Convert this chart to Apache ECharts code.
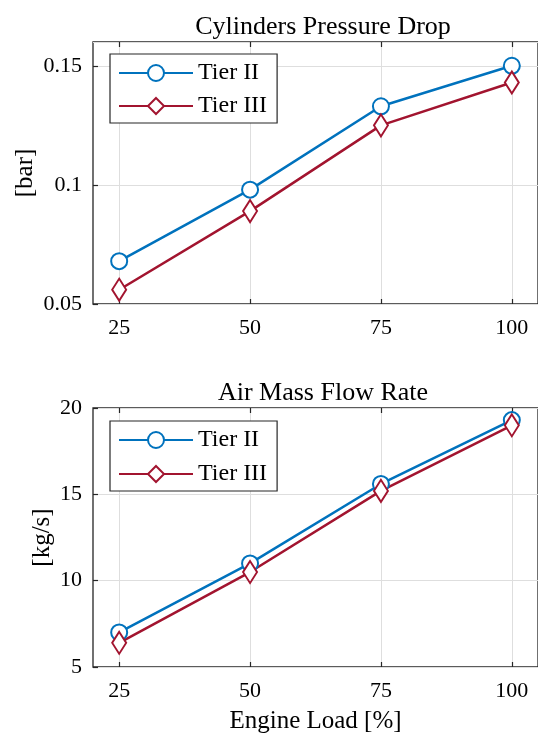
<!DOCTYPE html>
<html><head><meta charset="utf-8">
<script src="https://cdn.jsdelivr.net/npm/echarts@6/dist/echarts.min.js"></script>
<style>html,body{margin:0;padding:0;background:#fff;overflow:hidden}#c{width:538px;height:735px}</style>
</head><body><div id="c"></div>
<script>
const loads = [25, 50, 75, 100];
const xTicks = [25, 50, 75, 100];
const pressureTier2 = [0.068, 0.098, 0.133, 0.150];
const pressureTier3 = [0.056, 0.089, 0.125, 0.143];
const airTier2 = [7.0, 11.0, 15.6, 19.3];
const airTier3 = [6.4, 10.5, 15.2, 19.0];
const seriesNames = ['Tier II', 'Tier III'];
const titles = ['Cylinders Pressure Drop', 'Air Mass Flow Rate'];
const yNames = ['[bar]', '[kg/s]'];
const xName = 'Engine Load [%]';

const FONT = 'Liberation Serif';
const BLUE = '#0072BD', RED = '#A2142F', AX = '#262626';
const pair = arr => loads.map((x, i) => [x, arr[i]]);

const grids = [
  {left: 93, top: 42, width: 449, height: 262},
  {left: 93, top: 408, width: 449, height: 263}
];

function xAx(gi, top) {
  return {
    type: 'value', gridIndex: gi, min: 20, max: 105, position: top ? 'top' : 'bottom',
    name: (!top && gi === 1) ? xName : '', nameLocation: 'middle', nameGap: 42, nameMoveOverlap: false,
    nameTextStyle: {fontFamily: FONT, fontSize: 25, color: '#000'},
    axisLine: {show: false},
    axisTick: {show: true, inside: true, length: 5, customValues: xTicks, lineStyle: {color: AX, width: 1.2}},
    axisLabel: {show: !top, customValues: xTicks, margin: 13, fontFamily: FONT, fontSize: 22, color: '#000'},
    splitLine: {show: !top, customValues: xTicks, lineStyle: {color: '#dedede', width: 1}}
  };
}
function yAx(gi, min, max, interval, nameGap, showMax) {
  return {
    type: 'value', gridIndex: gi, min: min, max: max, interval: interval,
    name: yNames[gi], nameLocation: 'middle', nameGap: nameGap, nameMoveOverlap: false,
    nameTextStyle: {fontFamily: FONT, fontSize: 25, color: '#000'},
    axisLine: {show: false},
    axisTick: {show: true, inside: true, length: 5, lineStyle: {color: AX, width: 1.2}},
    axisLabel: {margin: 11, fontFamily: FONT, fontSize: 22, color: '#000', showMaxLabel: showMax,
      formatter: v => String(+v.toFixed(3))},
    splitLine: {show: true, lineStyle: {color: '#dedede', width: 1}}
  };
}
function ser(name, data, gi, color, symbol, size) {
  return {
    type: 'line', name: name, xAxisIndex: gi * 2, yAxisIndex: gi, data: data,
    symbol: symbol, symbolSize: size, showAllSymbol: true,
    lineStyle: {color: color, width: 2.5},
    itemStyle: {color: color, borderColor: color, borderWidth: 2.4},
    emphasis: {disabled: true}, animation: false
  };
}
function leg(top, gap) {
  return {
    data: seriesNames, orient: 'vertical', left: 110, top: top,
    backgroundColor: '#fff', borderColor: AX, borderWidth: 1.2,
    padding: [7, 10, 5, 8], itemWidth: 74, itemHeight: 20, itemGap: gap,
    textStyle: {fontFamily: FONT, fontSize: 24, color: '#000'}
  };
}

const chart = echarts.init(document.getElementById('c'), null, {renderer: 'canvas'});
chart.setOption({
  animation: false,
  backgroundColor: '#fff',
  title: [
    {text: titles[0], left: 318, top: 9, textAlign: 'center', textStyle: {fontFamily: FONT, fontSize: 26, fontWeight: 'normal', color: '#000'}},
    {text: titles[1], left: 318, top: 375, textAlign: 'center', textStyle: {fontFamily: FONT, fontSize: 26, fontWeight: 'normal', color: '#000'}}
  ],
  grid: grids.map(g => Object.assign({show: true, borderColor: AX, borderWidth: 1.3, backgroundColor: '#fff'}, g)),
  xAxis: [xAx(0, false), xAx(0, true), xAx(1, false), xAx(1, true)],
  yAxis: [yAx(0, 0.05, 0.16, 0.05, 55, false), yAx(1, 5, 20, 5, 38, true)],
  legend: [leg(54, 9), leg(421, 10)],
  series: [
    ser(seriesNames[0], pair(pressureTier2), 0, BLUE, 'emptyCircle', 16),
    ser(seriesNames[1], pair(pressureTier3), 0, RED, 'emptyDiamond', [14, 22]),
    ser(seriesNames[0], pair(airTier2), 1, BLUE, 'emptyCircle', 16),
    ser(seriesNames[1], pair(airTier3), 1, RED, 'emptyDiamond', [14, 22])
  ]
});
</script></body></html>
